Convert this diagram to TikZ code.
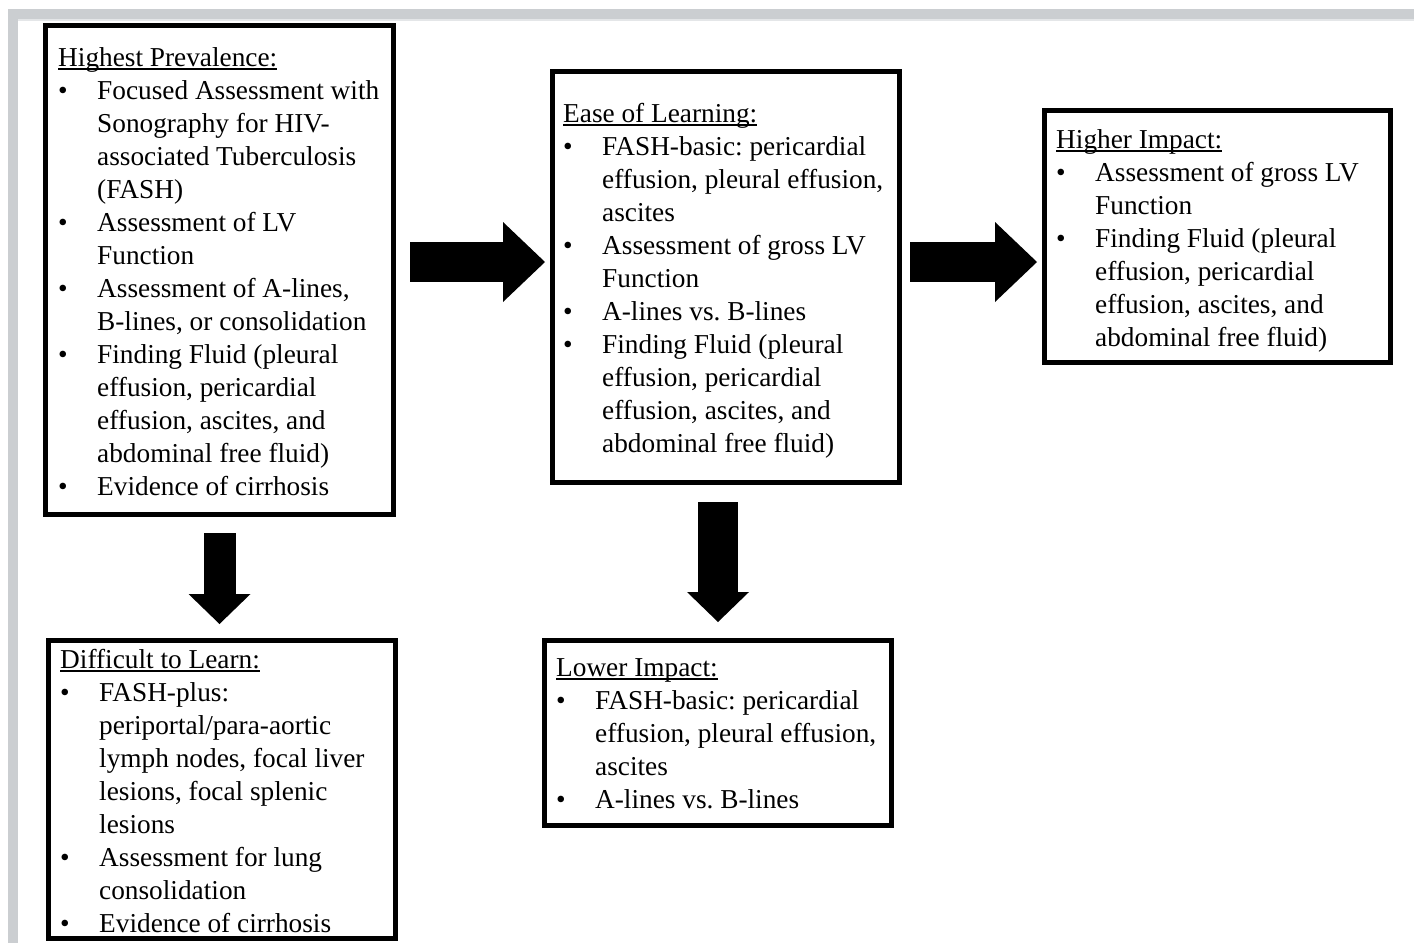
\documentclass[tikz,border=0pt]{standalone}
\usepackage{fontspec}
\setmainfont{Liberation Serif}
\usetikzlibrary{arrows.meta,calc}
\definecolor{framegray}{HTML}{CBCED1}
\definecolor{framelight}{HTML}{E4E6E8}
\newsavebox\headbox
\newcommand{\heading}[1]{\sbox\headbox{#1}\noindent\rlap{\rule[-4pt]{\wd\headbox}{1.6pt}}\usebox\headbox\par}
\newcommand{\nl}{\hskip 0pt plus 1fil\break}
\newcommand{\bitem}[1]{{\hangindent=39pt\hangafter=0\noindent\llap{\makebox[39pt][l]{\textbullet}}#1\par}}
\tikzset{
  box/.style={draw, line width=5pt, rectangle, inner sep=0pt, outer sep=0pt, anchor=north west},
  boxtext/.style={font=\fontsize{27.3}{33}\selectfont\frenchspacing, text width=420pt, align=flush left, inner sep=0pt, anchor=base west},
  rightarrow/.style={line width=40pt, -{Triangle[length=42pt,width=80pt,line width=0pt]}},
  downarrow/.style={line width=32pt, -{Triangle[length=30pt,width=62pt,line width=0pt]}}
}
\begin{document}
\begin{tikzpicture}[x=1pt,y=-1pt]
  \useasboundingbox (0,0) rectangle (1414,943);
  \fill[white] (0,0) rectangle (1414,943);
  % page frame
  \fill[framegray] (8,9) rectangle (1414,19);
  \fill[framegray] (8,9) rectangle (18,943);
  \fill[framelight] (18,19) rectangle (1414,21);

  % boxes
  \node[box, minimum width=348pt, minimum height=489pt] (prev) at (45.5,25.5) {};
  \node[box, minimum width=347pt, minimum height=411pt] (ease) at (552.5,71.5) {};
  \node[box, minimum width=346pt, minimum height=252pt] (high) at (1044.5,110.5) {};
  \node[box, minimum width=347pt, minimum height=298pt] (diff) at (48.5,640.5) {};
  \node[box, minimum width=347pt, minimum height=185pt] (lower) at (544.5,640.5) {};

  % box texts
  \node[boxtext] (prevtext) at ($(prev.north west)+(12.5,40.5)$) {%
    \heading{Highest Prevalence:}
    \bitem{Focused Assessment with\nl Sonography for HIV-\nl associated Tuberculosis\nl (FASH)}
    \bitem{Assessment of LV\nl Function}
    \bitem{Assessment of A-lines,\nl B-lines, or consolidation}
    \bitem{Finding Fluid (pleural\nl effusion, pericardial\nl effusion, ascites, and\nl abdominal free fluid)}
    \bitem{Evidence of cirrhosis}};
  \node[boxtext] (easetext) at ($(ease.north west)+(10.5,50.5)$) {%
    \heading{Ease of Learning:}
    \bitem{FASH-basic: pericardial\nl effusion, pleural effusion,\nl ascites}
    \bitem{Assessment of gross LV\nl Function}
    \bitem{A-lines vs. B-lines}
    \bitem{Finding Fluid (pleural\nl effusion, pericardial\nl effusion, ascites, and\nl abdominal free fluid)}};
  \node[boxtext] (hightext) at ($(high.north west)+(11.5,37.5)$) {%
    \heading{Higher Impact:}
    \bitem{Assessment of gross LV\nl Function}
    \bitem{Finding Fluid (pleural\nl effusion, pericardial\nl effusion, ascites, and\nl abdominal free fluid)}};
  \node[boxtext] (difftext) at ($(diff.north west)+(11.5,27.5)$) {%
    \heading{Difficult to Learn:}
    \bitem{FASH-plus:\nl periportal/para-aortic\nl lymph nodes, focal liver\nl lesions, focal splenic\nl lesions}
    \bitem{Assessment for lung\nl consolidation}
    \bitem{Evidence of cirrhosis}};
  \node[boxtext] (lowertext) at ($(lower.north west)+(11.5,35.5)$) {%
    \heading{Lower Impact:}
    \bitem{FASH-basic: pericardial\nl effusion, pleural effusion,\nl ascites}
    \bitem{A-lines vs. B-lines}};

  % block arrows
  \coordinate (arrowrow) at (0,262);
  \draw[rightarrow, shorten <=16.5pt, shorten >=7.5pt] (prev.east |- arrowrow) -- (ease.west |- arrowrow);
  \draw[rightarrow, shorten <=10.5pt, shorten >=7.5pt] (ease.east |- arrowrow) -- (high.west |- arrowrow);
  \draw[downarrow, shorten <=18.5pt, shorten >=16.5pt] (prev.south) -- (prev.south |- diff.north);
  \draw[downarrow, line width=40pt, shorten <=19.5pt, shorten >=18.5pt] (ease.south -| lower.north) -- (lower.north);
\end{tikzpicture}
\end{document}
